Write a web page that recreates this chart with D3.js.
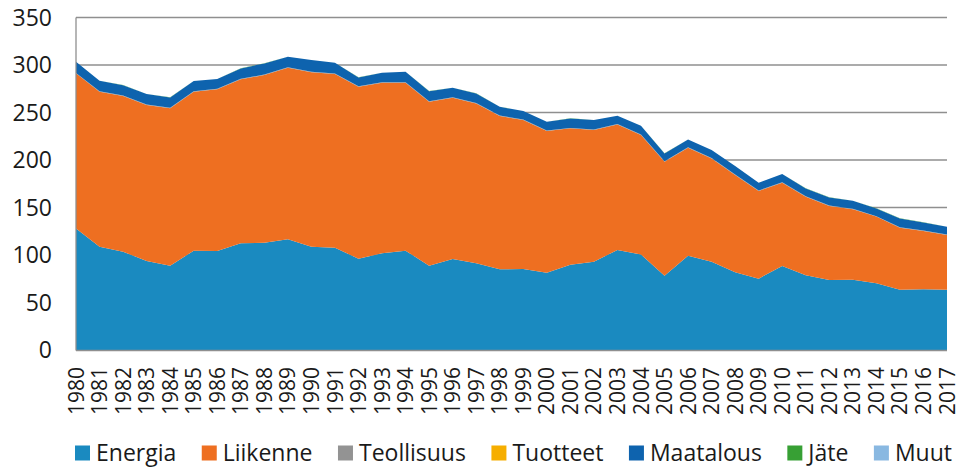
<!DOCTYPE html>
<html>
<head>
<meta charset="utf-8">
<script src="https://cdn.jsdelivr.net/npm/d3@7"></script>
<style>
  body { margin: 0; background: #fff; }
  text { font-family: "Open Sans", sans-serif; fill: #1a1a1a; }
</style>
</head>
<body>
<script>
// years and series
var years = d3.range(1980, 2018);
var energia = [128, 108.7, 103.5, 93.7, 88.8, 104.5, 104.2, 112.3, 113, 116.5, 108.7, 107.7, 96.1, 101.8, 104.6, 88.8, 95.8, 91.2, 84.9, 85.2,
  81.4, 89.8, 93, 105.3, 100.4, 78.2, 99.3, 93, 81.8, 75.1, 88.4, 78.6, 73.7, 74, 70.2, 63.5, 63.9, 63.5];
var liikenne = [163.2, 163.2, 163.9, 164.2, 165.6, 167.4, 170.2, 172.6, 176.5, 180.7, 183.6, 182.8, 181.1, 179.6, 176.8, 172.6, 169.8, 168.4, 161.4, 156.9,
  149.1, 143.5, 138.6, 132.1, 125.9, 120, 113.7, 108.7, 102.4, 92.3, 87.7, 82.8, 77.9, 74.1, 70.2, 65.3, 61.4, 57.5];
var teollisuus = [0.5, 0.5, 0.5, 0.5, 0.5, 0.5, 0.5, 0.5, 0.5, 0.5, 0.5, 0.5, 0.5, 0.5, 0.5, 0.5, 0.5, 0.5, 0.5, 0.5,
  0.5, 0.5, 0.5, 0.5, 0.5, 0.5, 0.5, 0.5, 0.5, 0.5, 0.5, 0.5, 0.5, 0.5, 0.5, 0.5, 0.5, 0.5];
var tuotteet = [0, 0, 0, 0, 0, 0, 0, 0, 0, 0, 0, 0, 0, 0, 0, 0, 0, 0, 0, 0,
  0, 0, 0, 0, 0, 0, 0, 0, 0, 0, 0, 0, 0, 0, 0, 0, 0, 0];
var maatalous = [11.7, 11.0, 10.9, 11.0, 11.0, 10.7, 10.3, 11.0, 11.7, 11.0, 12.4, 11.4, 9.2, 9.9, 11.0, 10.6, 9.9, 10.0, 9.2, 8.9,
  9.2, 10.0, 9.9, 8.6, 9.2, 8.2, 8.1, 8.2, 8.9, 8.1, 8.6, 8.2, 8.5, 8.5, 8.1, 9.2, 8.5, 8.2];
var jate = [0.1, 0.1, 0.1, 0.1, 0.1, 0.1, 0.1, 0.1, 0.1, 0.1, 0.1, 0.1, 0.1, 0.1, 0.1, 0.1, 0.1, 0.1, 0.1, 0.1,
  0.1, 0.1, 0.1, 0.1, 0.1, 0.1, 0.1, 0.1, 0.1, 0.1, 0.1, 0.1, 0.1, 0.1, 0.1, 0.1, 0.1, 0.1];
var muut = [0, 0, 0, 0, 0, 0, 0, 0, 0, 0, 0, 0, 0, 0, 0, 0, 0, 0, 0, 0,
  0, 0, 0, 0, 0, 0, 0, 0, 0, 0, 0, 0, 0, 0, 0, 0, 0, 0];
var yTicks = [0, 50, 100, 150, 200, 250, 300, 350];

var keys = ['Energia', 'Liikenne', 'Teollisuus', 'Tuotteet', 'Maatalous', 'Jäte', 'Muut'];
var seriesVals = [energia, liikenne, teollisuus, tuotteet, maatalous, jate, muut];
var colors = ['#1a8ac0', '#ee6f21', '#939393', '#f6ae00', '#0e63ae', '#37a034', '#89b8e1'];

var rows = years.map(function (y, i) {
  var r = { year: y };
  keys.forEach(function (k, j) { r[k] = seriesVals[j][i]; });
  return r;
});

var width = 959, height = 470;
var svg = d3.select('body').append('svg').attr('width', width).attr('height', height);

var x = d3.scaleLinear().domain([1980, 2017]).range([76, 947]);
var y = d3.scaleLinear().domain([0, 350]).range([350, 17.5]);

// gridlines (behind the areas)
svg.append('g').selectAll('line')
  .data(yTicks.filter(function (d) { return d > 0; }))
  .enter().append('line')
  .attr('x1', 76).attr('x2', 947)
  .attr('y1', function (d) { return y(d); })
  .attr('y2', function (d) { return y(d); })
  .attr('stroke', '#8f8f8f')
  .attr('stroke-width', 1.3);

var stack = d3.stack().keys(keys);
var layers = stack(rows);

var area = d3.area()
  .x(function (d) { return x(d.data.year); })
  .y0(function (d) { return y(d[0]); })
  .y1(function (d) { return y(d[1]); });

svg.append('g').selectAll('path')
  .data(layers)
  .enter().append('path')
  .attr('d', area)
  .attr('fill', function (d, i) { return colors[i]; });

// axis lines
svg.append('line').attr('x1', 76).attr('x2', 76).attr('y1', y(350)).attr('y2', 350.5)
  .attr('stroke', '#8f8f8f').attr('stroke-width', 1.3);
svg.append('line').attr('x1', 76).attr('x2', 947).attr('y1', 350.5).attr('y2', 350.5)
  .attr('stroke', '#8f8f8f').attr('stroke-width', 1.3);

// y tick labels
svg.append('g').selectAll('text')
  .data(yTicks)
  .enter().append('text')
  .attr('x', 52)
  .attr('y', function (d) { return y(d); })
  .attr('dy', '0.36em')
  .attr('text-anchor', 'end')
  .attr('font-size', 23)
  .text(function (d) { return d; });

// x tick labels, rotated
svg.append('g').selectAll('text')
  .data(years)
  .enter().append('text')
  .attr('transform', function (d) { return 'translate(' + x(d) + ',367) rotate(-90)'; })
  .attr('dy', '0.36em')
  .attr('text-anchor', 'end')
  .attr('font-size', 21)
  .text(function (d) { return d; });

// legend
var legend = svg.append('g');
var items = legend.selectAll('g')
  .data(keys)
  .enter().append('g');
items.append('rect')
  .attr('y', 445.5).attr('width', 15).attr('height', 15)
  .attr('fill', function (d, i) { return colors[i]; });
items.append('text')
  .attr('x', 21).attr('y', 461)
  .attr('font-size', 23)
  .text(function (d) { return d; });

var widths = [];
items.each(function () { widths.push(21 + d3.select(this).select('text').node().getComputedTextLength()); });
var gap = (952 - 75 - d3.sum(widths)) / (keys.length - 1);
var pos = 75;
items.attr('transform', function (d, i) {
  var t = 'translate(' + pos + ',0)';
  pos += widths[i] + gap;
  return t;
});
</script>
</body>
</html>
